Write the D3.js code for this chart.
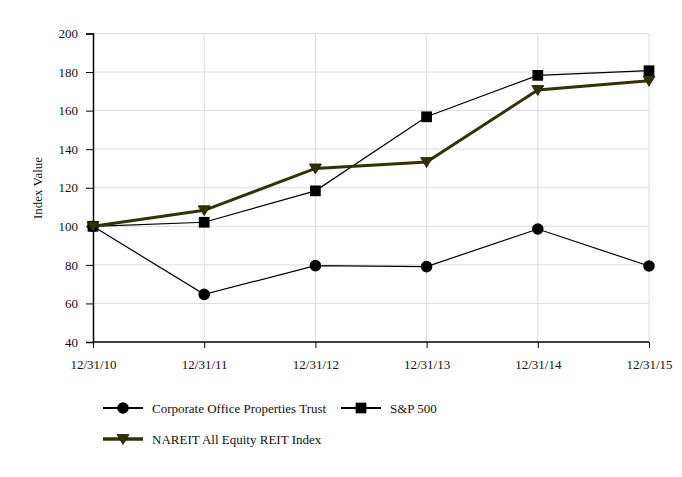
<!DOCTYPE html>
<html>
<head>
<meta charset="utf-8">
<script src="https://cdn.jsdelivr.net/npm/d3@7"></script>
<style>
  body { margin: 0; background: #fff; }
  text { font-family: "Liberation Serif", "Times New Roman", serif; }
</style>
</head>
<body>
<div id="chart"></div>
<script>
var dates = ["12/31/10", "12/31/11", "12/31/12", "12/31/13", "12/31/14", "12/31/15"];
var copt = [100, 64.7, 79.6, 79.1, 98.6, 79.4];
var sp500 = [100, 102.1, 118.4, 156.8, 178.3, 180.7];
var nareit = [100, 108.3, 130.0, 133.3, 170.7, 175.5];
var yTicks = [40, 60, 80, 100, 120, 140, 160, 180, 200];

var width = 682, height = 477;

var svg = d3.select("#chart").append("svg")
    .attr("width", width)
    .attr("height", height);

var x = d3.scalePoint().domain(dates).range([93, 649]);
var y = d3.scaleLinear().domain([40, 200]).range([342, 33.5]);

// grid lines
svg.append("g")
  .selectAll("line")
  .data(yTicks.slice(1))
  .enter().append("line")
  .attr("x1", 93).attr("x2", 649)
  .attr("y1", function(d) { return y(d); })
  .attr("y2", function(d) { return y(d); })
  .style("stroke", "#dcdcdc").style("stroke-width", 1);

svg.append("g")
  .selectAll("line")
  .data(dates.slice(1))
  .enter().append("line")
  .attr("x1", function(d) { return x(d); })
  .attr("x2", function(d) { return x(d); })
  .attr("y1", 33.5).attr("y2", 342)
  .style("stroke", "#dcdcdc").style("stroke-width", 1);

// axes
var yAxis = svg.append("g")
  .attr("transform", "translate(93,0)")
  .call(d3.axisLeft(y).tickValues(yTicks).tickSize(7).tickPadding(8));

var xAxis = svg.append("g")
  .attr("transform", "translate(0,342)")
  .call(d3.axisBottom(x).tickSize(6).tickPadding(12));

[xAxis, yAxis].forEach(function(a) {
  a.attr("font-family", "'Liberation Serif', serif");
  a.select(".domain").style("stroke", "#000").style("stroke-width", 1.5);
  a.selectAll(".tick line").style("stroke", "#000");
  a.selectAll("text")
    .style("font-family", "'Liberation Serif', serif")
    .style("font-size", "13px")
    .attr("fill", "#111");
});
xAxis.select(".domain").attr("d", "M93,0H649");

svg.append("text")
  .attr("transform", "translate(42,188) rotate(-90)")
  .attr("text-anchor", "middle")
  .attr("font-size", "13px")
  .attr("fill", "#111")
  .text("Index Value");

var series = [
  { name: "Corporate Office Properties Trust", values: copt, color: "#000", w: 1.2, shape: d3.symbolCircle, size: 105 },
  { name: "S&P 500", values: sp500, color: "#000", w: 1.2, shape: d3.symbolSquare, size: 115 },
  { name: "NAREIT All Equity REIT Index", values: nareit, color: "#333300", w: 3, shape: "tri", size: 0 }
];

var line = d3.line()
  .x(function(d, i) { return x(dates[i]); })
  .y(function(d) { return y(d); });

function marker(g, s) {
  if (s.shape === "tri") {
    g.append("path").attr("d", "M-6,-4.5L6,-4.5L0,5.5Z")
      .attr("fill", s.color).attr("stroke", "#1a1a00").attr("stroke-width", 0.8);
  } else {
    g.append("path").attr("d", d3.symbol().type(s.shape).size(s.size)())
      .attr("fill", "#000");
  }
}

series.forEach(function(s) {
  svg.append("path")
    .datum(s.values)
    .attr("d", line)
    .attr("fill", "none")
    .attr("stroke", s.color)
    .attr("stroke-width", s.w);

  svg.append("g")
    .selectAll("g")
    .data(s.values)
    .enter().append("g")
    .attr("transform", function(d, i) { return "translate(" + x(dates[i]) + "," + y(d) + ")"; })
    .each(function() { marker(d3.select(this), s); });
});

// legend
var legendPos = [[103, 408], [341, 408], [103, 439]];
series.forEach(function(s, i) {
  var p = legendPos[i];
  var g = svg.append("g").attr("transform", "translate(" + p[0] + "," + p[1] + ")");
  g.append("line").attr("x1", 0).attr("x2", 40).attr("y1", 0).attr("y2", 0)
    .attr("stroke", s.color).attr("stroke-width", s.w + 0.6);
  var m = g.append("g").attr("transform", "translate(20,0)");
  marker(m, s);
  g.append("text").attr("x", 49).attr("y", 4.5)
    .attr("font-size", "13px").attr("fill", "#111")
    .text(s.name);
});
</script>
</body>
</html>
